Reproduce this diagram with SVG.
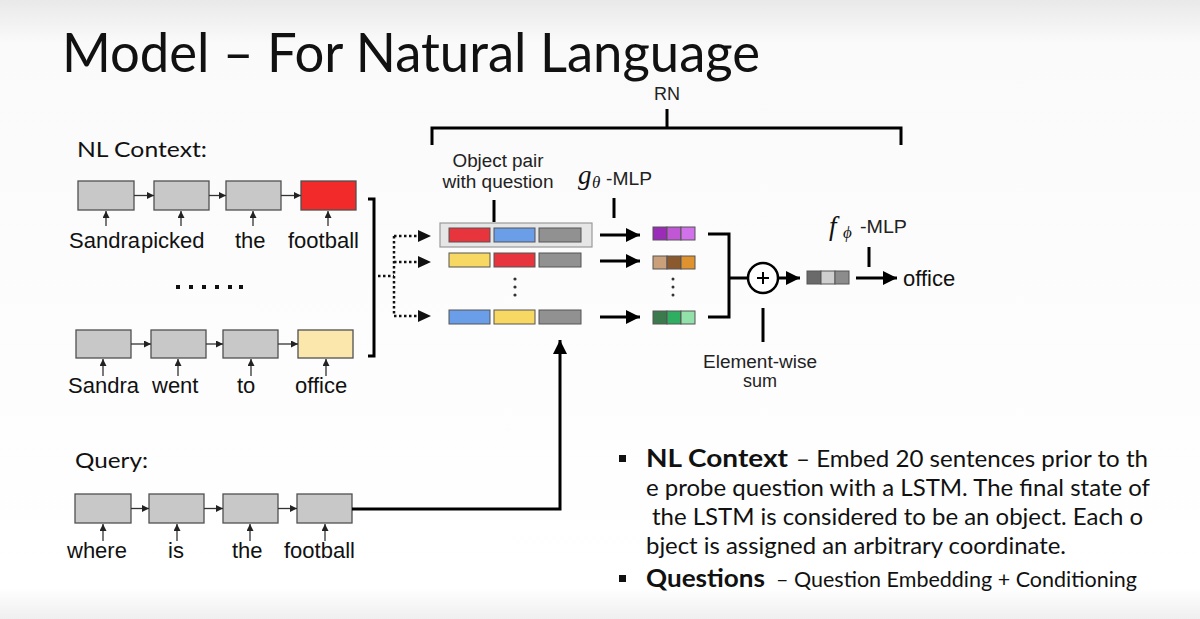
<svg xmlns="http://www.w3.org/2000/svg" width="1200" height="619" viewBox="0 0 1200 619">
<defs>
<linearGradient id="bg" x1="0" y1="0" x2="0" y2="1">
<stop offset="0" stop-color="#e9e9e9"/>
<stop offset="0.07" stop-color="#fafafa"/>
<stop offset="0.95" stop-color="#ffffff"/>
<stop offset="1" stop-color="#efefef"/>
</linearGradient>
<marker id="sm" markerUnits="userSpaceOnUse" markerWidth="8" markerHeight="8" refX="7" refY="3.5" orient="auto"><path d="M0,0 L7,3.5 L0,7 z" fill="#222"/></marker>
<marker id="big" markerUnits="userSpaceOnUse" markerWidth="16" markerHeight="16" refX="14" refY="7" orient="auto"><path d="M0,0 L14,7 L0,14 z" fill="#000"/></marker>
</defs>
<style>
.lstm{fill:#c8c8c8;stroke:#505050;stroke-width:1.3}
.w{font-family:"Liberation Sans",Arial,sans-serif;font-size:22px;fill:#111}
.sm{stroke:#333;stroke-width:1.3;fill:none;marker-end:url(#sm)}
.thick{stroke:#000;stroke-width:3;fill:none}
.big{stroke:#000;stroke-width:3;fill:none;marker-end:url(#big)}
.dot{stroke:#111;stroke-width:2.5;stroke-dasharray:2.5 2.5;fill:none}
.lbl{font-family:"Liberation Sans",Arial,sans-serif;font-size:18px;fill:#222}
.gs{font-family:Lato,"Open Sans",sans-serif;fill:#111}
.cell{stroke:#555;stroke-width:1}
.math{font-family:"Liberation Serif","Times New Roman",serif;font-style:italic;fill:#111}
</style>
<rect width="1200" height="619" fill="url(#bg)"/>

<text class="gs" x="62" y="72" font-size="54" textLength="698" lengthAdjust="spacingAndGlyphs">Model – For Natural Language</text>

<g id="nl-context-label"><text class="gs" x="77" y="157" font-size="22" textLength="130" lengthAdjust="spacingAndGlyphs">NL Context:</text></g>

<g id="row1">
<rect class="lstm" x="78" y="181" width="56" height="29"/>
<rect class="lstm" x="154" y="181" width="55" height="29"/>
<rect class="lstm" x="226" y="181" width="55" height="29"/>
<rect x="301" y="181" width="55" height="29" fill="#f22a2a" stroke="#505050" stroke-width="1.3"/>
<text class="w" x="69" y="248">Sandra</text>
<text class="w" x="141" y="248">picked</text>
<text class="w" x="235" y="248">the</text>
<text class="w" x="288" y="248">football</text>
</g>

<g id="dots-between"><g fill="#111">
<rect x="176" y="285" width="4" height="4"/><rect x="189" y="285" width="4" height="4"/><rect x="202" y="285" width="4" height="4"/><rect x="215" y="285" width="4" height="4"/><rect x="228" y="285" width="4" height="4"/><rect x="239" y="285" width="4" height="4"/>
</g></g>

<g id="row2">
<rect class="lstm" x="76" y="330" width="55" height="28"/>
<rect class="lstm" x="151" y="330" width="55" height="28"/>
<rect class="lstm" x="223" y="330" width="55" height="28"/>
<rect x="298" y="330" width="55" height="28" fill="#fbe7ac" stroke="#505050" stroke-width="1.3"/>
<text class="w" x="68" y="393">Sandra</text>
<text class="w" x="152" y="393">went</text>
<text class="w" x="237" y="393">to</text>
<text class="w" x="295" y="393">office</text>
</g>

<g id="query-label"><text class="gs" x="75" y="468" font-size="22" textLength="73" lengthAdjust="spacingAndGlyphs">Query:</text></g>

<g id="query-row">
<rect class="lstm" x="75" y="494" width="56" height="29"/>
<rect class="lstm" x="149" y="494" width="55" height="29"/>
<rect class="lstm" x="223" y="494" width="55" height="29"/>
<rect class="lstm" x="297" y="494" width="55" height="29"/>
<text class="w" x="67" y="558">where</text>
<text class="w" x="168" y="558">is</text>
<text class="w" x="232" y="558">the</text>
<text class="w" x="284" y="558">football</text>
</g>

<g id="object-pairs">
<rect x="440" y="223" width="152" height="24" fill="#e6e6e6" stroke="#9a9a9a" stroke-width="1.2"/>
<rect class="cell" x="449" y="228" width="41" height="14" fill="#e8343c"/>
<rect class="cell" x="494" y="228" width="41" height="14" fill="#6a9ee8"/>
<rect class="cell" x="539" y="228" width="42" height="14" fill="#919191"/>
<rect class="cell" x="449" y="253" width="41" height="14" fill="#f7d862"/>
<rect class="cell" x="494" y="253" width="41" height="14" fill="#e8343c"/>
<rect class="cell" x="539" y="253" width="42" height="14" fill="#919191"/>
<rect class="cell" x="449" y="310" width="41" height="14" fill="#6a9ee8"/>
<rect class="cell" x="494" y="310" width="41" height="14" fill="#f7d862"/>
<rect class="cell" x="539" y="310" width="42" height="14" fill="#919191"/>
<circle cx="515" cy="279" r="1.6" fill="#333"/><circle cx="515" cy="287" r="1.6" fill="#333"/><circle cx="515" cy="295" r="1.6" fill="#333"/>
<text class="lbl" x="498" y="167" text-anchor="middle" textLength="91" lengthAdjust="spacingAndGlyphs">Object pair</text>
<text class="lbl" x="498" y="188" text-anchor="middle" textLength="111" lengthAdjust="spacingAndGlyphs">with question</text>
</g>

<g id="g-mlp">
<text class="math" x="578" y="184" font-size="27">g</text>
<text class="math" x="592" y="188" font-size="17">θ</text>
<text class="lbl" x="606" y="185" textLength="46" lengthAdjust="spacingAndGlyphs">-MLP</text>
</g>

<g id="outputs">
<rect class="cell" x="653" y="227" width="14" height="13" fill="#9a2cb8"/>
<rect class="cell" x="667" y="227" width="14" height="13" fill="#c058d6"/>
<rect class="cell" x="681" y="227" width="14" height="13" fill="#d272ea"/>
<rect class="cell" x="653" y="256" width="14" height="13" fill="#c9a07a"/>
<rect class="cell" x="667" y="256" width="14" height="13" fill="#8a5a2e"/>
<rect class="cell" x="681" y="256" width="14" height="13" fill="#e0922e"/>
<rect class="cell" x="653" y="311" width="14" height="13" fill="#3b7a4c"/>
<rect class="cell" x="667" y="311" width="14" height="13" fill="#2fae62"/>
<rect class="cell" x="681" y="311" width="14" height="13" fill="#92e0aa"/>
<circle cx="673" cy="279" r="1.5" fill="#333"/><circle cx="673" cy="287" r="1.5" fill="#333"/><circle cx="673" cy="295" r="1.5" fill="#333"/>
</g>

<g id="sum">
<circle cx="763" cy="278" r="15" fill="#fff" stroke="#000" stroke-width="2.5"/>
<path d="M757,278 H769 M763,272 V284" stroke="#000" stroke-width="2"/>
<text class="lbl" x="760" y="368" text-anchor="middle" textLength="114" lengthAdjust="spacingAndGlyphs">Element-wise</text>
<text class="lbl" x="760" y="387" text-anchor="middle">sum</text>
</g>

<g id="sum-vector">
<rect class="cell" x="807" y="271" width="14" height="13" fill="#6a6a6a"/>
<rect class="cell" x="821" y="271" width="14" height="13" fill="#cfcfcf"/>
<rect class="cell" x="835" y="271" width="14" height="13" fill="#8c8c8c"/>
</g>

<g id="f-mlp">
<text class="math" x="829" y="235" font-size="27">f</text>
<text class="math" x="843" y="238" font-size="17">ϕ</text>
<text class="lbl" x="860" y="233" textLength="47" lengthAdjust="spacingAndGlyphs">-MLP</text>
</g>

<g id="output-word"><text class="w" x="903" y="286">office</text></g>

<g id="rn">
<text class="lbl" x="667" y="100" text-anchor="middle">RN</text>
</g>

<g id="bullets">
<rect x="619" y="455" width="7" height="7" fill="#111"/>
<text class="gs" x="646" y="467" font-size="24" font-weight="bold" textLength="142" lengthAdjust="spacingAndGlyphs">NL Context</text>
<text class="gs" x="796" y="467" font-size="24" textLength="352" lengthAdjust="spacingAndGlyphs">– Embed 20 sentences prior to th</text>
<text class="gs" x="646" y="496" font-size="24" textLength="504" lengthAdjust="spacingAndGlyphs">e probe question with a LSTM. The final state of</text>
<text class="gs" x="652" y="525" font-size="24" textLength="491" lengthAdjust="spacingAndGlyphs">the LSTM is considered to be an object. Each o</text>
<text class="gs" x="646" y="554" font-size="24" textLength="420" lengthAdjust="spacingAndGlyphs">bject is assigned an arbitrary coordinate.</text>
<rect x="619" y="575" width="7" height="7" fill="#111"/>
<text class="gs" x="646" y="587" font-size="24" font-weight="bold" textLength="119" lengthAdjust="spacingAndGlyphs">Questions</text>
<text class="gs" x="776" y="587" font-size="21" textLength="361" lengthAdjust="spacingAndGlyphs">– Question Embedding + Conditioning</text>
</g>

<g id="connectors">
<path class="sm" d="M134,195.5 H154"/><path class="sm" d="M209,195.5 H226"/><path class="sm" d="M281,195.5 H301"/>
<path class="sm" d="M106,226 V211"/><path class="sm" d="M181,226 V211"/><path class="sm" d="M253,226 V211"/><path class="sm" d="M328,226 V211"/>
<path class="sm" d="M131,344 H151"/><path class="sm" d="M206,344 H223"/><path class="sm" d="M278,344 H298"/>
<path class="sm" d="M103,376 V359"/><path class="sm" d="M178,376 V359"/><path class="sm" d="M251,376 V359"/><path class="sm" d="M326,376 V359"/>
<path class="sm" d="M131,508.5 H149"/><path class="sm" d="M204,508.5 H223"/><path class="sm" d="M278,508.5 H297"/>
<path class="sm" d="M103,541 V524"/><path class="sm" d="M177,541 V524"/><path class="sm" d="M250,541 V524"/><path class="sm" d="M325,541 V524"/>
<path class="thick" d="M368,199 H374 V356 H368"/>
<path class="dot" d="M378,276 H394 M394,236 V316 M394,236 H419 M394,262 H419 M394,316 H419"/>
<path d="M418,230 L431,236 L418,242 z M418,256 L431,262 L418,268 z M418,310 L431,316 L418,322 z" fill="#111"/>
<path class="big" d="M352,509 H560 V340"/>
<path class="thick" d="M494,200 V222" stroke-width="2.5"/>
<path class="thick" d="M614,198 V218" stroke-width="2.5"/>
<path class="thick" d="M763,308 V342" stroke-width="2.5"/>
<path class="thick" d="M869,247 V267" stroke-width="2.5"/>
<path class="thick" d="M667,109 V128" stroke-width="2.5"/>
<path class="thick" d="M432,145 V128 H901 V145"/>
<path class="big" d="M600,235 H640"/><path class="big" d="M600,261 H640"/><path class="big" d="M600,317 H640"/>
<path class="thick" d="M708,234 H729 V317 H708 M729,278 H748" stroke-width="2.5"/>
<path class="big" d="M778,278 H800" stroke-width="2.5"/>
<path class="big" d="M856,278 H897"/>
</g>
</svg>
